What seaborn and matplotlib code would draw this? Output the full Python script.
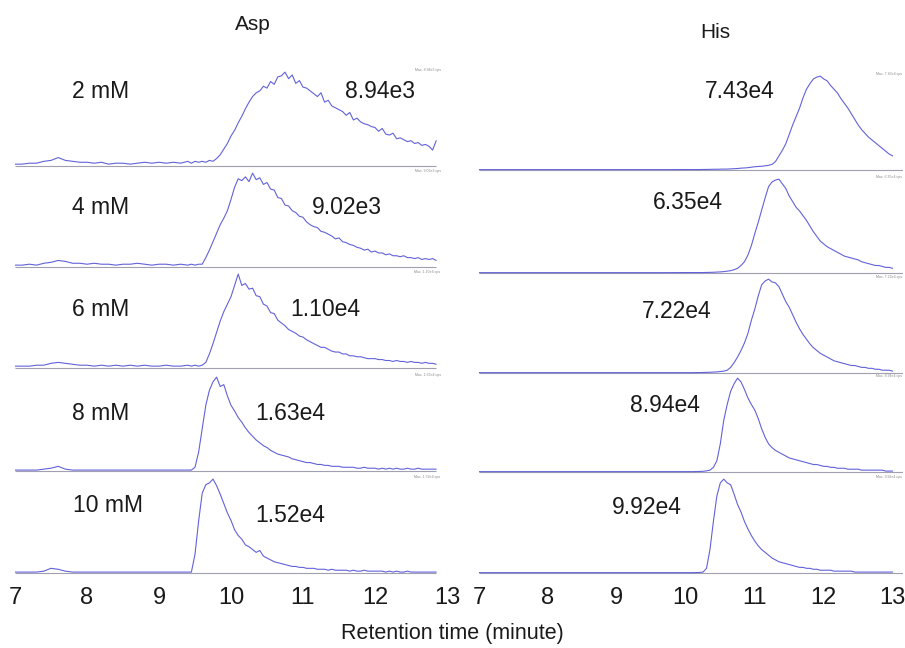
import numpy as np
import pandas as pd
import matplotlib
matplotlib.use("Agg")
import matplotlib.pyplot as plt
import seaborn as sns

# ---------------- data ----------------
amino_acids = ["Asp", "His"]
concentrations = ["2 mM", "4 mM", "6 mM", "8 mM", "10 mM"]
asp_max = ["8.94e3", "9.02e3", "1.10e4", "1.63e4", "1.52e4"]
his_max = ["7.43e4", "6.35e4", "7.22e4", "8.94e4", "9.92e4"]
x_ticks = [7, 8, 9, 10, 11, 12, 13]

# retention-time grids (minutes)
asp_time = np.concatenate([np.linspace(7.0, 9.4, 25), np.linspace(9.45, 12.85, 69)])
his_time = np.concatenate([np.linspace(7.0, 10.0, 13), np.linspace(10.05, 13.0, 60)])

# relative intensity (fraction of panel max)
asp_2mM = [.02, .02, .03, .03, .05, .06, .09, .06, .05, .04,
           .04, .03, .04, .02, .03, .03, .02, .03, .04, .03,
           .04, .03, .04, .03, .05,
           .03, .05, .04, .05, .04, .06, .05, .08, .12, .18,
           .24, .32, .38, .46, .53, .61, .68, .74, .78, .80,
           .85, .83, .90, .87, .95, .96, 1.0, .93, .97, .88,
           .91, .84, .83, .80, .77, .74, .78, .68, .70, .64,
           .62, .60, .58, .54, .57, .49, .51, .47, .45, .44,
           .42, .41, .37, .40, .34, .33, .35, .29, .30, .28,
           .26, .27, .24, .25, .22, .23, .21, .17, .27]
asp_4mM = [.02, .02, .03, .02, .04, .05, .07, .06, .04, .04,
           .03, .04, .03, .03, .02, .03, .03, .04, .03, .02,
           .03, .03, .02, .03, .02,
           .03, .02, .03, .03, .10, .18, .27, .36, .45, .52,
           .60, .72, .85, .94, .92, .96, .91, 1.0, .93, .95,
           .88, .90, .83, .82, .74, .73, .66, .65, .60, .58,
           .54, .53, .48, .45, .43, .42, .38, .37, .35, .33,
           .30, .31, .27, .26, .24, .23, .21, .20, .18, .19,
           .16, .17, .15, .15, .13, .14, .12, .12, .11, .12,
           .10, .10, .09, .10, .08, .09, .08, .09, .07]
asp_6mM = [.02, .02, .02, .03, .03, .05, .06, .05, .04, .03,
           .03, .02, .03, .02, .03, .02, .03, .02, .03, .02,
           .02, .03, .02, .02, .03,
           .02, .03, .02, .03, .06, .15, .26, .38, .50, .60,
           .68, .76, .88, 1.0, .88, .90, .84, .85, .77, .76,
           .68, .66, .59, .58, .51, .48, .45, .41, .39, .37,
           .34, .33, .30, .28, .26, .24, .22, .22, .20, .18,
           .17, .17, .15, .15, .13, .13, .12, .12, .11, .10,
           .10, .10, .09, .09, .08, .08, .07, .08, .07, .07,
           .06, .07, .06, .06, .05, .06, .05, .05, .04]
asp_8mM = [.01, .01, .01, .01, .02, .03, .05, .02, .01, .01,
           .01, .01, .01, .01, .01, .01, .01, .01, .01, .01,
           .01, .01, .01, .01, .01,
           .01, .04, .20, .45, .70, .86, .95, 1.0, .90, .92,
           .80, .70, .64, .57, .52, .46, .41, .37, .33, .30,
           .27, .25, .22, .20, .18, .17, .16, .15, .13, .12,
           .11, .10, .09, .09, .08, .07, .07, .06, .06, .05,
           .05, .05, .04, .04, .04, .04, .03, .03, .04, .03,
           .03, .03, .02, .03, .02, .03, .02, .03, .02, .02,
           .03, .02, .02, .03, .02, .02, .02, .02, .02]
asp_10mM = [.01, .01, .01, .01, .02, .05, .04, .02, .01, .01,
            .01, .01, .01, .01, .01, .01, .01, .01, .01, .01,
            .01, .01, .01, .01, .01,
            .01, .20, .55, .85, .94, .96, 1.0, .93, .84, .74,
            .64, .56, .46, .40, .36, .30, .28, .25, .22, .24,
            .18, .16, .14, .12, .11, .10, .09, .08, .07, .07,
            .06, .06, .05, .05, .05, .04, .04, .04, .03, .04,
            .03, .03, .03, .03, .02, .03, .02, .02, .03, .02,
            .02, .02, .02, .02, .01, .02, .01, .02, .01, .01,
            .02, .01, .01, .01, .01, .01, .01, .01, .01]

his_2mM = [.004, .004, .004, .004, .004, .004, .004, .004, .004, .004, .004, .004, .005,
           .005, .005, .005, .005, .006, .006, .007, .008, .008, .009,
           .010, .010, .012, .014, .016, .020, .022, .025, .030, .035,
           .038, .040, .045, .050, .060, .090, .15, .21, .28, .38,
           .48, .57, .66, .77, .86, .92, .97, .99, 1.0, .97,
           .95, .90, .86, .82, .76, .71, .66, .60, .54, .48,
           .43, .39, .35, .32, .29, .26, .23, .20, .17, .15]
his_4mM = [.004, .004, .004, .004, .004, .004, .004, .004, .004, .004, .004, .004, .005,
           .005, .005, .005, .005, .005, .006, .007, .008, .010, .012,
           .015, .020, .025, .035, .050, .080, .12, .19, .29, .42,
           .54, .67, .80, .92, .97, .99, 1.0, .95, .90, .82,
           .76, .70, .66, .61, .56, .50, .44, .39, .34, .31,
           .28, .26, .24, .22, .20, .18, .17, .16, .15, .14,
           .12, .11, .10, .09, .08, .08, .07, .06, .06, .05]
his_6mM = [.004, .004, .004, .004, .004, .004, .004, .004, .004, .004, .004, .004, .004,
           .004, .004, .005, .005, .006, .007, .008, .010, .012, .016,
           .020, .030, .060, .11, .17, .24, .32, .42, .56, .68,
           .82, .94, .98, 1.0, .97, .96, .92, .84, .76, .70,
           .62, .54, .47, .41, .36, .31, .27, .24, .21, .19,
           .17, .15, .13, .12, .11, .10, .09, .08, .08, .07,
           .06, .06, .05, .05, .04, .04, .03, .03, .03, .02]
his_8mM = [.004, .004, .004, .004, .004, .004, .004, .004, .004, .004, .004, .004, .004,
           .004, .004, .005, .006, .008, .012, .020, .050, .12, .30,
           .55, .72, .86, .94, 1.0, .96, .88, .79, .72, .66,
           .57, .46, .37, .30, .26, .23, .21, .19, .17, .15,
           .14, .13, .12, .11, .10, .09, .08, .08, .07, .06,
           .06, .05, .05, .04, .04, .04, .03, .03, .03, .03,
           .02, .02, .02, .02, .02, .02, .02, .01, .01, .01]
his_10mM = [.004, .004, .004, .004, .004, .004, .004, .004, .004, .004, .004, .004, .004,
            .004, .004, .005, .006, .010, .050, .25, .55, .82, .96,
            1.0, .96, .94, .84, .73, .65, .55, .47, .40, .34,
            .29, .25, .22, .19, .16, .14, .12, .11, .10, .09,
            .08, .07, .06, .06, .05, .05, .04, .04, .03, .03,
            .03, .03, .02, .02, .02, .02, .02, .02, .01, .01,
            .01, .01, .01, .01, .01, .01, .01, .01, .01, .01]

asp_traces = [asp_2mM, asp_4mM, asp_6mM, asp_8mM, asp_10mM]
his_traces = [his_2mM, his_4mM, his_6mM, his_8mM, his_10mM]

# ---------------- layout / style ----------------
W, H = 905, 648
trace_color = "#6262da"
base_color = "#a0a0b0"

sns.set_theme(style="white")
plt.rcParams["font.family"] = ["Liberation Sans", "DejaVu Sans"]

fig = plt.figure(figsize=(W / 100, H / 100), dpi=100)

columns = [
    dict(name=amino_acids[0], times=asp_time, traces=asp_traces, labels=asp_max,
         left=15, width=432, xlim=(7, 13), line_end=12.85,
         baselines=[166, 267, 368, 471, 573], tiny_x=0.985,
         label_pos=[(345, 92), (312, 208), (290, 310), (255, 413), (255, 515)],
         title_pos=(253, 25)),
    dict(name=amino_acids[1], times=his_time, traces=his_traces, labels=his_max,
         left=479, width=424, xlim=(7, 13.15), line_end=13.15,
         baselines=[170, 273, 373, 472, 573], tiny_x=0.998,
         label_pos=[(705, 92), (653, 202), (642, 312), (630, 405), (612, 508)],
         title_pos=(715, 33)),
]
conc_pos = [(72, 92), (72, 208), (72, 310), (72, 413), (73, 505)]

for ci, col in enumerate(columns):
    for r in range(5):
        base = col["baselines"][r]
        rect = [col["left"] / W, 1 - (base + 1.9) / H, col["width"] / W, 100 / H]
        ax = fig.add_axes(rect)
        ax.set_facecolor("none")
        t = col["times"]
        v = np.asarray(col["traces"][r])
        ax.hlines(0, t[0], col["line_end"], color=base_color, lw=0.8, zorder=1)
        sns.lineplot(x=t, y=v, ax=ax, color=trace_color, lw=0.8,
                     estimator=None, sort=False, zorder=2)
        ax.set_xlim(*col["xlim"])
        ax.set_ylim(-0.02, 1.045)
        ax.set_yticks([])
        ax.set_xlabel("")
        ax.set_ylabel("")
        for s in ax.spines.values():
            s.set_visible(False)
        if r == 4:
            ax.set_xticks(x_ticks)
            ax.set_xticklabels([str(x) for x in x_ticks])
            ax.tick_params(axis="x", length=0, pad=9, labelsize=17, labelcolor="#1a1a1a")
        else:
            ax.set_xticks([])
        ax.text(col["tiny_x"], 1.0, f"Max. {col['labels'][r]} cps", transform=ax.transAxes,
                ha="right", va="top", fontsize=2.5, color="#8a8a8a")
        lx, ly = col["label_pos"][r]
        fig.text(lx / W, 1 - ly / H, col["labels"][r], fontsize=16.5,
                 ha="left", va="center", color="#1a1a1a")
        if ci == 0:
            cx, cy = conc_pos[r]
            fig.text(cx / W, 1 - cy / H, concentrations[r], fontsize=16.5,
                     ha="left", va="center", color="#1a1a1a")
    tx, ty = col["title_pos"]
    fig.text(tx / W, 1 - ty / H, col["name"], fontsize=15, ha="center", va="center",
             color="#1a1a1a")

fig.text(452 / W, 1 - 633 / H, "Retention time (minute)", fontsize=15.5,
         ha="center", va="center", color="#1a1a1a")

fig.savefig("out.png", dpi=100, facecolor="white")
